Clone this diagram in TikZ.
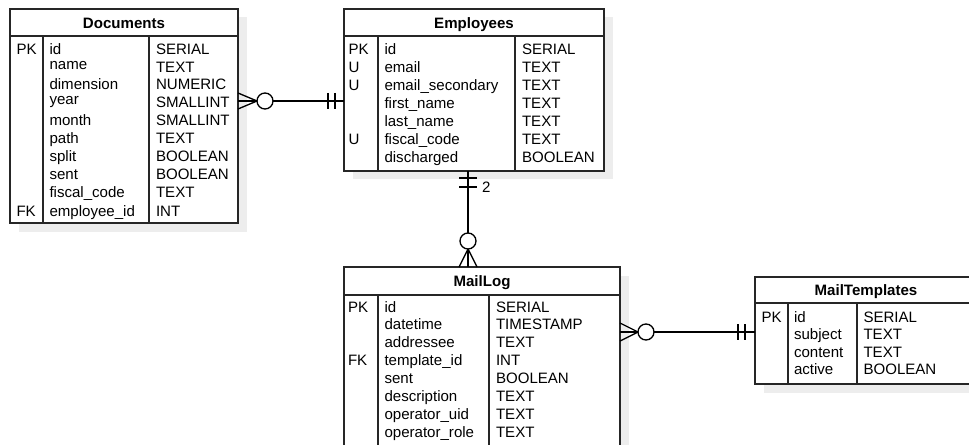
\documentclass[tikz,border=0pt]{standalone}
\usepackage{fontspec}
\setmainfont{Liberation Sans}
\usetikzlibrary{calc}
\newcommand\erow[6]{\node[txt] (#1k#2) at (\kx,#3) {#4};\node[txt] (#1n#2) at (\nx,#3) {#5};\node[txt] (#1t#2) at (\tx,#3) {#6};}
\newcommand\frow[5]{\node[txt] (#1n#2) at (\nx,#3) {#4};\node[txt] (#1t#2) at (\tx,#3) {#5};}
\begin{document}
\begin{tikzpicture}[x=0.75pt,y=-0.75pt,
  txt/.style={anchor=base west,inner sep=0pt,outer sep=0pt,font=\fontsize{11.3pt}{13pt}\selectfont},
  ttl/.style={anchor=base,inner sep=0pt,outer sep=0pt,font=\fontsize{11.3pt}{13pt}\selectfont\bfseries},
  tbl/.style={draw=black!85,line width=1.1pt,fill=white,inner sep=0pt,outer sep=0pt,anchor=north west},
  shd/.style={fill=black!7,draw=none,inner sep=0pt,outer sep=0pt,anchor=north west},
  sep/.style={draw=black!85,line width=1.1pt},
  rel/.style={draw=black,line width=1pt},
  ]
\useasboundingbox (0,0) rectangle (969,445);
\clip (0,0) rectangle (969,445);
% shadows
\node[shd,minimum width=171pt,minimum height=160.5pt] (docS) at (18.5,17.5) {};
\node[shd,minimum width=195pt,minimum height=121.5pt] (empS) at (352.5,17.5) {};
\node[shd,minimum width=207pt,minimum height=144.75pt] (mlS) at (352.5,275.5) {};
\node[shd,minimum width=166.5pt,minimum height=80.25pt] (mtS) at (763.5,285.5) {};
% tables
\node[tbl,minimum width=171pt,minimum height=160.5pt] (doc) at (10,9) {};
\node[tbl,minimum width=195pt,minimum height=121.5pt] (emp) at (344,9) {};
\node[tbl,minimum width=207pt,minimum height=144.75pt] (ml) at (344,267) {};
\node[tbl,minimum width=166.5pt,minimum height=80.25pt] (mt) at (755,277) {};
% inner lines
\draw[sep] (10,36) -- (238,36) (43,36) -- (43,223) (149,36) -- (149,223);
\draw[sep] (344,36) -- (604,36) (378,36) -- (378,171) (515,36) -- (515,171);
\draw[sep] (344,295) -- (620,295) (378,295) -- (378,460) (489,295) -- (489,460);
\draw[sep] (755,303) -- (977,303) (788,303) -- (788,384) (857,303) -- (857,384);
% titles
\node[ttl] (docT) at (124,28.5) {Documents};
\node[ttl] (empT) at (474,28.5) {Employees};
\node[ttl] (mlT) at (482,286.7) {MailLog};
\node[ttl] (mtT) at (866,295.5) {MailTemplates};
% Documents rows
\def\kx{16.5}\def\nx{49.5}\def\tx{156}
\erow{d}{1}{55}{PK}{id}{SERIAL}
\node[txt] (dn2) at (\nx,69.5) {name};\node[txt] (dt2) at (\tx,72.5) {TEXT};
\frow{d}{3}{90}{dimension}{NUMERIC}
\node[txt] (dn4) at (\nx,105) {year};\node[txt] (dt4) at (\tx,108) {SMALLINT};
\frow{d}{5}{126}{month}{SMALLINT}
\frow{d}{6}{144}{path}{TEXT}
\frow{d}{7}{162}{split}{BOOLEAN}
\frow{d}{8}{180}{sent}{BOOLEAN}
\frow{d}{9}{198}{fiscal\_code}{TEXT}
\erow{d}{10}{216}{FK}{employee\_id}{INT}
% Employees rows
\def\kx{348.5}\def\nx{384.5}\def\tx{522}
\erow{e}{1}{55}{PK}{id}{SERIAL}
\erow{e}{2}{72.9}{U}{email}{TEXT}
\erow{e}{3}{90.8}{U}{email\_secondary}{TEXT}
\frow{e}{4}{108.7}{first\_name}{TEXT}
\frow{e}{5}{126.6}{last\_name}{TEXT}
\erow{e}{6}{144.5}{U}{fiscal\_code}{TEXT}
\frow{e}{7}{162.4}{discharged}{BOOLEAN}
% MailLog rows
\def\kx{348}\def\nx{384.5}\def\tx{496}
\erow{m}{1}{312}{PK}{id}{SERIAL}
\frow{m}{2}{329.9}{datetime}{TIMESTAMP}
\frow{m}{3}{347.8}{addressee}{TEXT}
\erow{m}{4}{365.7}{FK}{template\_id}{INT}
\frow{m}{5}{383.6}{sent}{BOOLEAN}
\frow{m}{6}{401.5}{description}{TEXT}
\frow{m}{7}{419.4}{operator\_uid}{TEXT}
\frow{m}{8}{437.3}{operator\_role}{TEXT}
% MailTemplates rows
\def\kx{761.5}\def\nx{794}\def\tx{863.5}
\erow{t}{1}{322.7}{PK}{id}{SERIAL}
\frow{t}{2}{339.9}{subject}{TEXT}
\frow{t}{3}{357.1}{content}{TEXT}
\frow{t}{4}{374.3}{active}{BOOLEAN}
% relation Documents - Employees
\coordinate (r1) at (0,101);
\coordinate (a1) at (doc.east |- r1);
\coordinate (b1) at (emp.west |- r1);
\draw[rel] (a1) -- (b1);
\draw[rel] ($(a1)+(0,-8)$) -- ($(a1)+(19,0)$) -- ($(a1)+(0,8)$);
\draw[rel,fill=white] ($(a1)+(27,0)$) circle[radius=6pt];
\draw[rel] ($(b1)+(-16,-8)$) -- ($(b1)+(-16,8)$) ($(b1)+(-9,-8)$) -- ($(b1)+(-9,8)$);
% relation Employees - MailLog
\coordinate (r2) at (468,0);
\coordinate (a2) at (emp.south -| r2);
\coordinate (b2) at (ml.north -| r2);
\draw[rel] (a2) -- (b2);
\draw[rel] ($(a2)+(-9,7)$) -- ($(a2)+(9,7)$) ($(a2)+(-9,16)$) -- ($(a2)+(9,16)$);
\node[txt] (lbl2) at (482,192.5) {2};
\draw[rel] ($(b2)+(-9,0)$) -- ($(b2)+(0,-18)$) -- ($(b2)+(9,0)$);
\draw[rel,fill=white] ($(b2)+(0,-26)$) circle[radius=6pt];
% relation MailLog - MailTemplates
\coordinate (r3) at (0,332);
\coordinate (a3) at (ml.east |- r3);
\coordinate (b3) at (mt.west |- r3);
\draw[rel] (a3) -- (b3);
\draw[rel] ($(a3)+(0,-9)$) -- ($(a3)+(18,0)$) -- ($(a3)+(0,9)$);
\draw[rel,fill=white] ($(a3)+(26,0)$) circle[radius=6pt];
\draw[rel] ($(b3)+(-17,-8)$) -- ($(b3)+(-17,8)$) ($(b3)+(-10,-8)$) -- ($(b3)+(-10,8)$);
\end{tikzpicture}
\end{document}
